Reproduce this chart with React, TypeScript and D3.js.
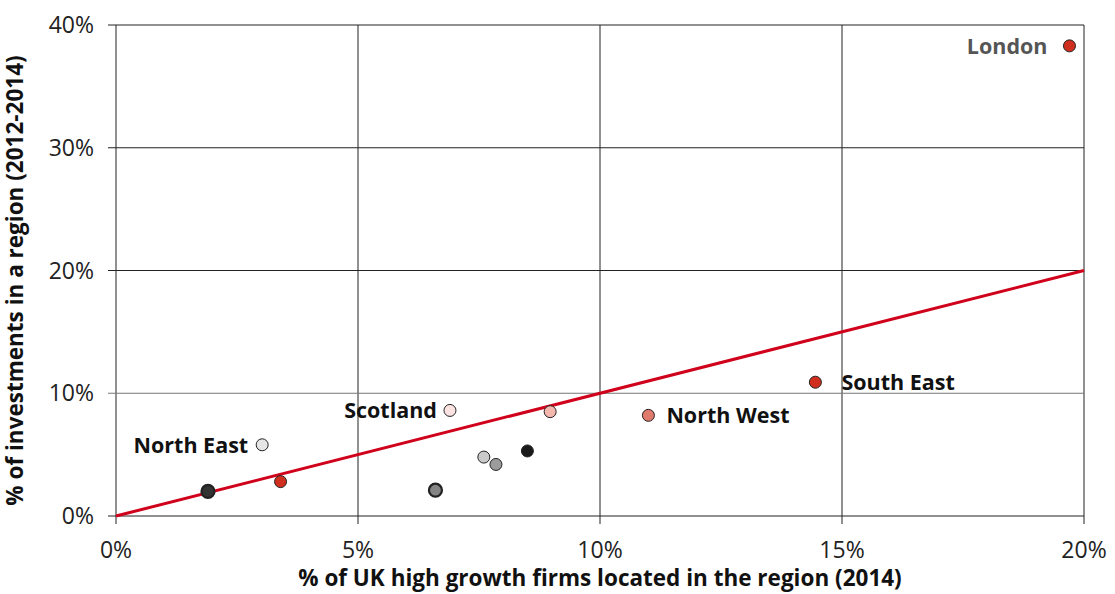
import React, { useEffect, useRef } from 'react';
import * as d3 from 'd3';

const regions = [
  'London', 'South East', 'North West', 'Scotland', 'East of England', 'North East',
  'Wales', 'Northern Ireland', 'South West', 'Yorkshire and the Humber', 'East Midlands', 'West Midlands'
];
const firmShare = [19.7, 14.45, 11.0, 6.9, 8.97, 3.02, 3.4, 1.9, 6.6, 7.6, 7.85, 8.5];
const investShare = [38.3, 10.9, 8.2, 8.6, 8.5, 5.8, 2.8, 2.0, 2.1, 4.8, 4.2, 5.3];
const pointFill = [
  '#d02f1f', '#d02f1f', '#e07a6d', '#fbe3e2', '#f3b7ae', '#e6e6e6',
  '#d02f1f', '#333333', '#858585', '#cacaca', '#9c9c9c', '#1a1a1a'
];
const heavyRing = ['Northern Ireland', 'South West'];

const labelled = [
  { name: 'London', dx: -22, anchor: 'end', color: '#555' },
  { name: 'South East', dx: 26, anchor: 'start', color: '#111' },
  { name: 'North West', dx: 18, anchor: 'start', color: '#111' },
  { name: 'Scotland', dx: -13, anchor: 'end', color: '#111' },
  { name: 'North East', dx: -14, anchor: 'end', color: '#111' }
];

const xTicks = [0, 5, 10, 15, 20];
const yTicks = [0, 10, 20, 30, 40];

const W = 1115;
const H = 594;
const margin = { top: 25, right: 31, bottom: 78, left: 116 };
const font = '"Open Sans", "Noto Sans", sans-serif';

const App: React.FC = () => {
  const svgRef = useRef<SVGSVGElement>(null);

  useEffect(() => {
    if (!svgRef.current) return;
    const svg = d3.select(svgRef.current);
    svg.selectAll('*').remove();

    const innerW = W - margin.left - margin.right;
    const innerH = H - margin.top - margin.bottom;

    const x = d3.scaleLinear().domain([0, 20]).range([0, innerW]);
    const y = d3.scaleLinear().domain([0, 40]).range([innerH, 0]);

    const g = svg.append('g').attr('transform', `translate(${margin.left},${margin.top})`);

    // gridlines
    g.selectAll('.vgrid')
      .data(xTicks)
      .join('line')
      .attr('x1', d => x(d))
      .attr('x2', d => x(d))
      .attr('y1', 0)
      .attr('y2', innerH + 8)
      .attr('stroke', '#222')
      .attr('stroke-width', 1);

    g.selectAll('.hgrid')
      .data(yTicks)
      .join('line')
      .attr('x1', -8)
      .attr('x2', innerW)
      .attr('y1', d => y(d))
      .attr('y2', d => y(d))
      .attr('stroke', d => (d === 10 ? '#777' : '#222'))
      .attr('stroke-width', 1);

    // tick labels
    g.selectAll('.xlab')
      .data(xTicks)
      .join('text')
      .attr('x', d => x(d))
      .attr('y', innerH + 42)
      .attr('text-anchor', 'middle')
      .attr('font-family', font)
      .attr('font-size', 23)
      .attr('fill', '#222')
      .text(d => `${d}%`);

    g.selectAll('.ylab')
      .data(yTicks)
      .join('text')
      .attr('x', -22)
      .attr('y', d => y(d) + 8)
      .attr('text-anchor', 'end')
      .attr('font-family', font)
      .attr('font-size', 23)
      .attr('fill', '#222')
      .text(d => `${d}%`);

    // axis titles
    g.append('text')
      .attr('x', innerW / 2)
      .attr('y', innerH + 70)
      .attr('text-anchor', 'middle')
      .attr('font-family', font)
      .attr('font-size', 22.5)
      .attr('font-weight', 'bold')
      .attr('fill', '#111')
      .text('% of UK high growth firms located in the region (2014)');

    g.append('text')
      .attr('transform', `translate(${-93},${innerH / 2 + 10}) rotate(-90)`)
      .attr('text-anchor', 'middle')
      .attr('font-family', font)
      .attr('font-size', 22.5)
      .attr('font-weight', 'bold')
      .attr('fill', '#111')
      .text('% of investments in a region (2012-2014)');

    // 45 degree reference line
    g.append('line')
      .attr('x1', x(0))
      .attr('y1', y(0))
      .attr('x2', x(20))
      .attr('y2', y(20))
      .attr('stroke', '#d0021b')
      .attr('stroke-width', 3);

    // points
    const pts = regions.map((r, i) => ({ r, x: firmShare[i], y: investShare[i], fill: pointFill[i] }));
    g.selectAll('.pt')
      .data(pts)
      .join('circle')
      .attr('cx', d => x(d.x))
      .attr('cy', d => y(d.y))
      .attr('r', d => (heavyRing.includes(d.r) ? 6.5 : 6))
      .attr('fill', d => d.fill)
      .attr('stroke', '#222')
      .attr('stroke-width', d => (heavyRing.includes(d.r) ? 2.2 : 1));

    // labels
    labelled.forEach(l => {
      const i = regions.indexOf(l.name);
      g.append('text')
        .attr('x', x(firmShare[i]) + l.dx)
        .attr('y', y(investShare[i]) + 8)
        .attr('text-anchor', l.anchor)
        .attr('font-family', font)
        .attr('font-size', 21.5)
        .attr('font-weight', 'bold')
        .attr('fill', l.color)
        .text(l.name);
    });
  }, []);

  return (
    <svg
      ref={svgRef}
      width={W}
      height={H}
      style={{ position: 'absolute', left: 0, top: 0, background: '#fff' }}
    />
  );
};

export default App;
